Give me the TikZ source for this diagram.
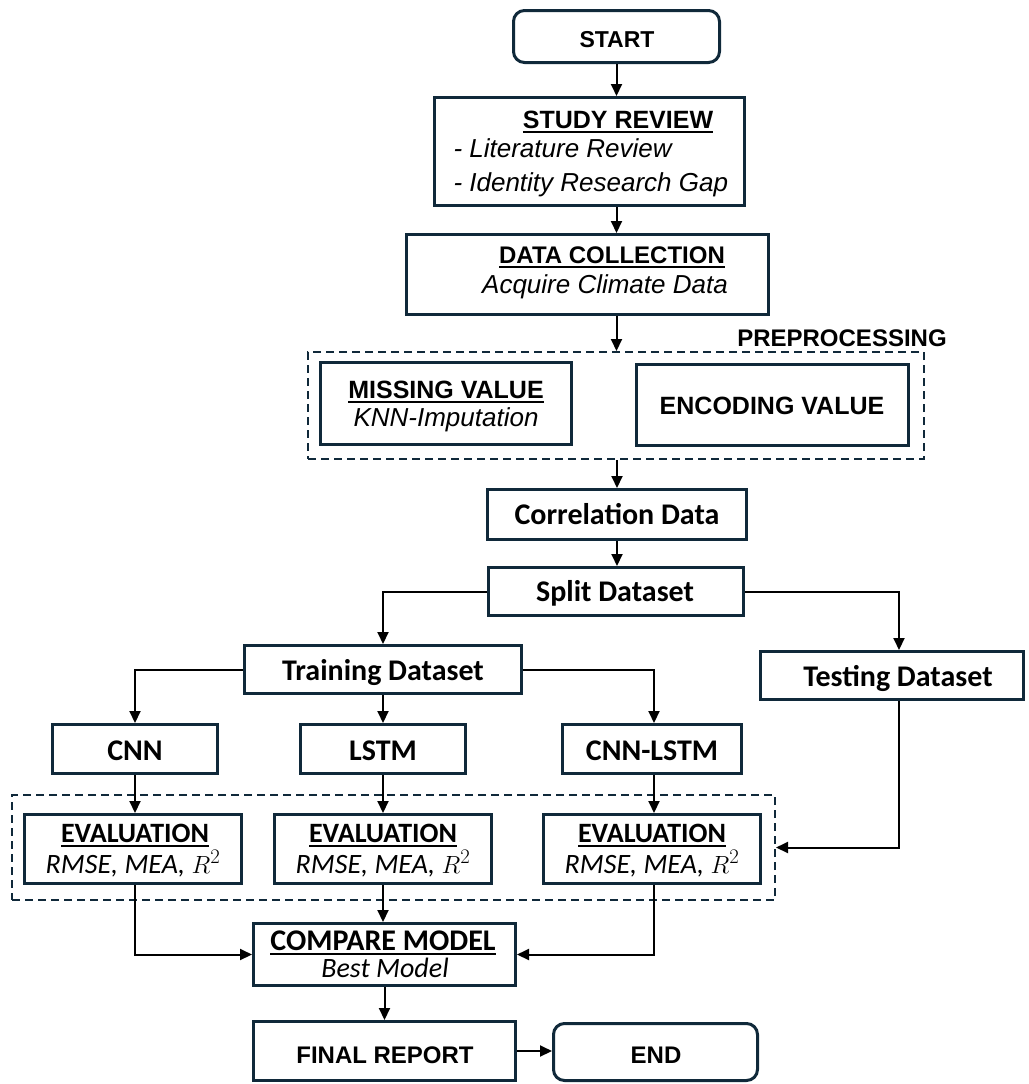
\documentclass[tikz,border=0pt]{standalone}
\usepackage{fontspec}
\setmainfont{Carlito}
\newfontfamily\arialf{Liberation Sans}
\usetikzlibrary{arrows.meta}
\definecolor{navy}{HTML}{10293A}
\newcommand\myfs[1]{\fontsize{#1}{#1}\selectfont}
\newsavebox\ulbox
\newcommand\myul[1]{\sbox\ulbox{#1}\rlap{\vrule height -3pt depth 5pt width \wd\ulbox}\usebox\ulbox}

\begin{document}
\begin{tikzpicture}[x=1pt,y=-1pt,
  box/.style={draw=navy,line width=3pt,inner sep=0pt,fill=white},
  rbox/.style={box,rounded corners=11pt},
  dbox/.style={draw=navy,line width=2pt,dash pattern=on 8pt off 5pt,inner sep=0pt},
  link/.style={line width=2pt,-{Triangle[length=12pt,width=11pt]}},
  cb/.style={anchor=base,font=\myfs{30}\bfseries},
  ci/.style={anchor=base,font=\myfs{28}\itshape},
  ab/.style={anchor=base,font=\arialf\myfs{24}\bfseries},
  ai/.style={anchor=base,font=\arialf\myfs{26}\itshape},
]
\useasboundingbox (0,0) rectangle (1028,1084);

% dashed group frames
\node[dbox,minimum width=616pt,minimum height=107pt] (pre) at (616,405.5) {};
\node[dbox,minimum width=763pt,minimum height=105pt] (evgroup) at (393.5,847.5) {};

% process boxes
\node[rbox,minimum width=206pt,minimum height=52pt] (start) at (616.5,36.5) {};
\node[box,minimum width=310pt,minimum height=108pt] (study) at (589.5,151.5) {};
\node[box,minimum width=362pt,minimum height=80pt] (datac) at (587.5,274.5) {};
\node[box,minimum width=251pt,minimum height=82pt] (missing) at (446,403.5) {};
\node[box,minimum width=272pt,minimum height=81pt] (encoding) at (772.5,405) {};
\node[box,minimum width=259pt,minimum height=50pt] (corr) at (617,514.5) {};
\node[box,minimum width=255pt,minimum height=48pt] (split) at (616,591.5) {};
\node[box,minimum width=277pt,minimum height=48pt] (train) at (383,669.5) {};
\node[box,minimum width=263pt,minimum height=48pt] (test) at (892,675.5) {};
\node[box,minimum width=165pt,minimum height=49pt] (cnn) at (135,749) {};
\node[box,minimum width=165pt,minimum height=49pt] (lstm) at (383,749) {};
\node[box,minimum width=179pt,minimum height=49pt] (cnnlstm) at (652,749) {};
\node[box,minimum width=217pt,minimum height=69pt] (ev1) at (133,849) {};
\node[box,minimum width=217pt,minimum height=69pt] (ev2) at (383,849) {};
\node[box,minimum width=217pt,minimum height=69pt] (ev3) at (652,849) {};
\node[box,minimum width=262pt,minimum height=62pt] (compare) at (384.5,954.5) {};
\node[box,minimum width=262pt,minimum height=59pt] (final) at (384.5,1051) {};
\node[rbox,minimum width=204pt,minimum height=57pt] (end) at (655.5,1052) {};

% labels
\node[ab,font=\arialf\myfs{23}\bfseries] (tstart) at (617,47) {START};
\node[ab,font=\arialf\myfs{25}\bfseries] (tstudy) at (618,128) {\myul{STUDY REVIEW}};
\node[ai,anchor=base west] (tlit) at (450,157) {- Literature Review};
\node[ai,anchor=base west] (tgap) at (450,191) {- Identity Research Gap};
\node[ab] (tdatac) at (612,263) {\myul{DATA COLLECTION}};
\node[ai] (tacq) at (605,293) {Acquire Climate Data};
\node[ab] (tpre) at (842,346) {PREPROCESSING};
\node[ab,font=\arialf\myfs{25}\bfseries] (tmiss) at (446,398) {\myul{MISSING VALUE}};
\node[ai] (tknn) at (446,426) {KNN-Imputation};
\node[ab,font=\arialf\myfs{25}\bfseries] (tenc) at (772,414) {ENCODING VALUE};
\node[cb] (tcorr) at (617,524) {Correlation Data};
\node[cb] (tsplit) at (615,601) {Split Dataset};
\node[cb] (ttrain) at (383,680) {Training Dataset};
\node[cb] (ttest) at (898,686) {Testing Dataset};
\node[cb] (tcnn) at (135,760) {CNN};
\node[cb] (tlstm) at (383,760) {LSTM};
\node[cb] (tcnnlstm) at (652,760) {CNN-LSTM};
\node[cb,font=\myfs{28}\bfseries] (tev1) at (135,842) {\myul{EVALUATION}};
\node[ci] (tm1) at (133,873) {RMSE, MEA, $R^2$};
\node[cb,font=\myfs{28}\bfseries] (tev2) at (383,842) {\myul{EVALUATION}};
\node[ci] (tm2) at (383,873) {RMSE, MEA, $R^2$};
\node[cb,font=\myfs{28}\bfseries] (tev3) at (652,842) {\myul{EVALUATION}};
\node[ci] (tm3) at (652,873) {RMSE, MEA, $R^2$};
\node[cb] (tcmp) at (383,950) {\myul{COMPARE MODEL}};
\node[ci] (tbest) at (385,977) {Best Model};
\node[ab] (tfinal) at (385,1063) {FINAL REPORT};
\node[ab] (tend) at (656,1063) {END};

% connectors
\draw[link] (start.south) -- (start.south |- study.north);
\draw[link] (start.south |- study.south) -- (start.south |- datac.north);
\draw[link] (start.south |- datac.south) -- (start.south |- pre.north);
\draw[link] (corr.north |- pre.south) -- (corr.north);
\draw[link] (corr.south) -- (corr.south |- split.north);
\draw[link] (split.west) -| (train.north);
\draw[link] (split.east) -| ([xshift=7pt]test.north);
\draw[link] (train.west) -| (cnn.north);
\draw[link] (train.south) -- (train.south |- lstm.north);
\draw[link] (train.east) -| ([xshift=2pt]cnnlstm.north);
\draw[link] (cnn.south) -- (cnn.south |- ev1.north);
\draw[link] (lstm.south) -- (lstm.south |- ev2.north);
\draw[link] ([xshift=2pt]cnnlstm.south) -- ([xshift=2pt]cnnlstm.south |- ev3.north);
\draw[link] ([xshift=7pt]test.south) |- (evgroup.east);
\draw[link] (cnn.south |- ev1.south) |- (compare.west);
\draw[link] (ev2.south) -- (ev2.south |- compare.north);
\draw[link] ([xshift=2pt]ev3.south) |- (compare.east);
\draw[link] (compare.south) -- (final.north);
\draw[link] (final.east) -- (final.east -| end.west);
\end{tikzpicture}
\end{document}
